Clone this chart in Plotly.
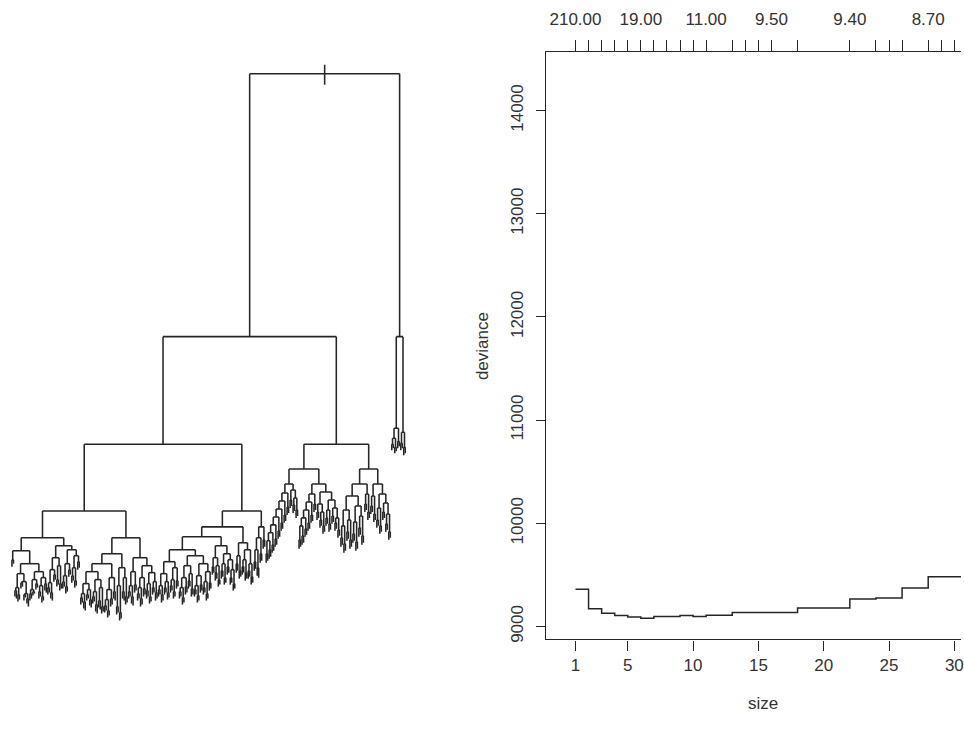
import plotly.graph_objects as go

# ---------------- Right panel data: cross-validated deviance by tree size ----------------
tree_size = [1, 2, 3, 4, 5, 6, 7, 8, 9, 10, 11, 13, 14, 15, 16, 18, 22, 24, 25, 26, 28, 29, 30, 31]
deviance = [9360, 9171, 9129, 9106, 9093, 9080, 9097, 9097, 9106, 9097, 9109, 9135, 9135, 9135,
            9135, 9180, 9267, 9277, 9277, 9373, 9483, 9483, 9483, 9483]
k_label_sizes = [1, 6, 11, 16, 22, 28]
k_labels = ["210.00", "19.00", "11.00", "9.50", "9.40", "8.70"]
size_ticks = [1, 5, 10, 15, 20, 25, 30]
dev_ticks = [9000, 10000, 11000, 12000, 13000, 14000]

# ---------------- Left panel data: regression tree (node depth) --------
# "(d L R)" = internal node at depth d with children L, R; a bare number = leaf depth.
Qa = "(576 (590 (593 599 601) (597 604 602)) (584 (585 591 589) (596 (597 603 600) (601 606 609))))"
Qb = "(574 (582 (592 (596 603 601) (594 598 596)) (586 592 590)) (580 (588 (594 601 599) (599 605 603)) (586 593 595)))"
L1b1 = "(560 (572 (585 (590 597 595) (595 601 603)) (577 584 582)) (568 (582 589 587) (586 593 591)))"
L1b2 = "(552 (566 (578 (584 591 589) (589 596 594)) (572 579 577)) (558 (570 (578 585 583) (583 590 588)) (564 572 570)))"
L1_leaf = "(562 569 566)"
C1 = "(586 (596 (600 607 605) (604 611 613)) (592 (597 603 601) (602 608 610)))"
C2 = "(582 (594 (599 606 604) (607 614 616)) (590 (603 610 612) (609 616 614)))"
C3 = "(580 (592 (602 (608 615 613) (613 620 618)) (601 609 607)) (594 601 603))"
C4 = "(570 (588 (609 617 615) (615 623 621)) (580 (594 601 603) (599 607 605)))"
D1 = "(574 (588 (594 601 599) (599 606 608)) (587 595 593))"
D2 = "(580 (590 (596 603 601) (601 609 607)) (591 599 597))"
D3 = "(586 (593 601 599) (599 606 604))"
D4 = "(584 (590 597 595) (595 603 601))"
N178L = ("(564 (576 (588 (592 599 597) (597 605 603)) (584 (590 597 595) (595 602 600))) "
         "(570 (582 (588 595 593) (594 601 599)) (583 591 589)))")
N178R = ("(558 (568 (580 (590 (594 601 599) (600 607 605)) (589 597 595)) (576 (583 591 589) (591 599 597))) "
         "(566 (578 (588 (592 599 597) (598 605 603)) (587 595 593)) (574 (584 (590 597 595) (596 603 601)) (585 593 591))))")
N221 = ("(548 (560 (569 577 575) (568 (575 583 581) (582 589 587))) "
        "(556 (566 (573 581 579) (580 587 585)) (562 (569 577 575) (572 (580 587 585) (586 593 591)))))")
N244 = "(545 (558 (566 575 573) (573 581 579)) (552 (562 (569 577 575) (575 583 581)) (566 (573 581 579) (579 587 585))))"
A1bR = "(529 (540 (552 (564 573 571) (570 578 580)) (556 565 563)) (542 551 549))"
Cat = ("(495 (503 (511 (519 (527 (535 (543 (556 565 563) (552 561 559)) (547 555 553)) (541 549 547)) "
       "(533 541 539)) (525 533 531)) (517 525 523)) (509 517 515))")
S3 = "(492 (502 510 508) (500 (507 515 513) (512 520 518)))"
R313 = "(496 (504 (512 (520 (528 (542 551 549) (538 547 545)) (531 539 537)) (525 533 531)) (517 525 523)) (506 514 512))"
R325 = ("(494 (506 (514 522 520) (514 (522 530 528) (528 536 534))) "
        "(502 (512 (520 528 526) (526 534 532)) (510 (518 526 524) (520 (525 533 531) (532 540 538)))))")
P8 = ("(498 (512 (528 (540 549 547) (546 555 553)) (522 (534 543 541) (542 551 549))) "
      "(508 (524 (536 545 543) (544 553 551)) (518 (530 539 537) (538 547 545))))")
Q2 = "(496 (506 514 512) (514 522 520))"
L374 = "(498 (508 516 514) (516 524 522))"
R385 = "(496 (510 (522 530 528) (528 536 534)) (505 (514 522 520) (516 (526 534 532) (534 542 540))))"
B_sub = "(338 (430 (440 (446 452 450) (449 455 453)) (443 450 448)) (434 (445 452 450) (449 457 455)))"
root_stub = [65, 85]

L1 = f"(540 (553 {L1_leaf} (566 {Qa} {Qb})) (548 {L1b1} {L1b2}))"
R1 = f"(540 (556 (566 (574 {C1} {C2}) {C3}) {C4}) (560 {D1} (568 {D2} (575 {D3} {D4}))))"
A1a = f"(513 {L1} {R1})"
A1b = f"(513 (529 (539 (552 {N178L} {N178R}) {N221}) {N244}) {A1bR})"
A2a = f"(471 (486 {Cat} {S3}) (486 {R313} {R325}))"
A2b = f"(471 (486 {P8} {Q2}) (486 {L374} {R385}))"
TREE = f"(74 (338 (446 {A1a} {A1b}) (446 {A2a} {A2b})) {B_sub})"


def parse(s):
    toks = s.replace("(", " ( ").replace(")", " ) ").split()
    pos = [0]

    def node():
        t = toks[pos[0]]
        pos[0] += 1
        if t == "(":
            d = float(toks[pos[0]])
            pos[0] += 1
            left = node()
            right = node()
            pos[0] += 1  # ')'
            return (d, left, right)
        return float(t)
    return node()


tree = parse(TREE)
xs, ys = [], []
leaf_counter = [0]


def layout(n):
    if not isinstance(n, tuple):
        x = leaf_counter[0]
        leaf_counter[0] += 1
        return x, n
    d, l, r = n
    xl, dl = layout(l)
    xr, dr = layout(r)
    xs.extend([xl, xl, None, xl, xr, None, xr, xr, None])
    ys.extend([dl, d, None, d, d, None, d, dr, None])
    return (xl + xr) / 2.0, d


root_x, root_d = layout(tree)
xs.extend([root_x, root_x, None])
ys.extend([root_stub[0], root_stub[1], None])

W, H = 964, 740
FONT = "Liberation Sans, Arial, sans-serif"
INK = "#262626"

fig = go.Figure()
fig.add_trace(go.Scatter(x=xs, y=ys, mode="lines", line=dict(color=INK, width=1.55),
                         xaxis="x", yaxis="y", hoverinfo="skip", showlegend=False))
fig.add_trace(go.Scatter(x=tree_size, y=deviance, mode="lines", line_shape="hv",
                         line=dict(color=INK, width=1.5), xaxis="x2", yaxis="y2",
                         showlegend=False))
fig.add_trace(go.Scatter(x=[tree_size[0]], y=[deviance[0]], mode="markers",
                         marker=dict(opacity=0), xaxis="x3", yaxis="y2",
                         hoverinfo="skip", showlegend=False))

top_text = [k_labels[k_label_sizes.index(s)] if s in k_label_sizes else "" for s in tree_size]

px_left, px_top, px_bottom = 548, 52, 642
x_lo, x_hi = -1.236, 30.51
axis_common = dict(showgrid=False, zeroline=False, showline=True, linecolor=INK, linewidth=1.3,
                   ticks="outside", tickcolor=INK, tickwidth=1.2,
                   tickfont=dict(family=FONT, size=17, color="#333"))

fig.update_layout(
    width=W, height=H, margin=dict(l=0, r=0, t=0, b=0),
    paper_bgcolor="white", plot_bgcolor="white",
    xaxis=dict(domain=[0, 0.5], range=[-8, 313.33], visible=False),
    yaxis=dict(domain=[0, 1], range=[H, 0], visible=False),
    xaxis2=dict(domain=[px_left / W, 1], range=[x_lo, x_hi], anchor="y2",
                tickvals=size_ticks, ticktext=[str(v) for v in size_ticks], ticklen=10,
                ticklabeloverflow="allow", **axis_common),
    yaxis2=dict(domain=[1 - px_bottom / H, 1 - px_top / H], range=[8875, 14570], anchor="x2",
                tickvals=dev_ticks, ticktext=[str(v) for v in dev_ticks], ticklen=9,
                tickangle=-90, ticklabelstandoff=6, **axis_common),
    xaxis3=dict(domain=[px_left / W, 1], range=[x_lo, x_hi], anchor="y2", overlaying="x2",
                side="top", tickvals=tree_size, ticktext=top_text, ticklen=11,
                ticklabelstandoff=8, ticklabeloverflow="allow", **axis_common),
    annotations=[
        dict(text="deviance", x=484 / W, y=1 - 347 / H, xref="paper", yref="paper",
             textangle=-90, showarrow=False, xanchor="center", yanchor="middle",
             font=dict(family=FONT, size=17, color="#333")),
        dict(text="size", x=765 / W, y=1 - 706 / H, xref="paper", yref="paper",
             showarrow=False, xanchor="center", yanchor="middle",
             font=dict(family=FONT, size=17, color="#333")),
    ],
)

fig.write_html("out.html")
